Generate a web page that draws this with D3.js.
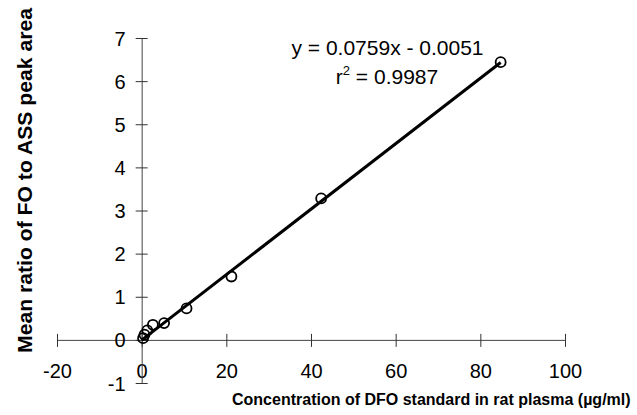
<!DOCTYPE html>
<html><head><meta charset="utf-8">
<script src="https://cdn.jsdelivr.net/npm/d3@7/dist/d3.min.js"></script>
<style>body{margin:0;background:#fff}svg{display:block}text{font-family:Arial,"Liberation Sans",sans-serif;fill:#000}</style>
</head><body><svg id="c" width="637" height="415"></svg>
<script>
const concentrations = [0.33, 0.66, 1.33, 2.65, 5.3, 10.6, 21.2, 42.4, 84.8];
const meanRatios = [0.04, 0.12, 0.22, 0.35, 0.39, 0.73, 1.47, 3.28, 6.44];
const xTicks = [-20, 0, 20, 40, 60, 80, 100];
const yTicks = [-1, 0, 1, 2, 3, 4, 5, 6, 7];
const slope = 0.0759, intercept = -0.0051;
const fitRange = [0, 84.8];
const eqText = "y = 0.0759x - 0.0051";
const r2Value = "0.9987";
const xTitle = "Concentration of DFO standard in rat plasma (\u00b5g/ml)";
const yTitle = "Mean ratio of FO to ASS peak area";

const FONT = "Arial, 'Liberation Sans', sans-serif";
const svg = d3.select("#c");
const x = d3.scaleLinear().domain([-20, 100]).range([57, 565]);
const y = d3.scaleLinear().domain([-1, 7]).range([383, 38]);

// x axis
const gx = svg.append("g").attr("transform", `translate(0,${y(0)})`)
  .call(d3.axisBottom(x).tickValues(xTicks).tickSizeOuter(0).tickSizeInner(6).tickFormat((d) => String(d)));
gx.select(".domain").attr("stroke", "#444").attr("stroke-width", 1);
gx.selectAll(".tick line").attr("y1", -6).attr("y2", 7).attr("stroke", "#333");
gx.selectAll(".tick text").attr("y", 31).attr("dy", "0.35em").attr("font-size", 20).attr("font-family", FONT);

// y axis
const gy = svg.append("g").attr("transform", `translate(${x(0)},0)`)
  .call(d3.axisLeft(y).tickValues(yTicks).tickSizeOuter(0).tickSizeInner(6).tickFormat((d) => String(d)));
gy.select(".domain").attr("stroke", "#444").attr("stroke-width", 1);
gy.selectAll(".tick line").attr("x1", -6).attr("x2", 6).attr("stroke", "#333");
gy.selectAll(".tick text").attr("x", -16).attr("dy", "0.35em").attr("font-size", 20).attr("font-family", FONT);

// regression line
svg.append("line")
  .attr("x1", x(fitRange[0])).attr("y1", y(slope * fitRange[0] + intercept))
  .attr("x2", x(fitRange[1])).attr("y2", y(slope * fitRange[1] + intercept))
  .attr("stroke", "#000").attr("stroke-width", 3);

// points
svg.selectAll("circle.pt").data(concentrations).join("circle").attr("class", "pt")
  .attr("cx", (d) => x(d)).attr("cy", (d, i) => y(meanRatios[i])).attr("r", 5)
  .attr("fill", "none").attr("stroke", "#000").attr("stroke-width", 1.8);

// equation
svg.append("text").attr("x", 387.5).attr("y", 55).attr("text-anchor", "middle")
  .attr("font-size", 21).text(eqText);
const r2 = svg.append("text").attr("x", 387).attr("y", 84).attr("text-anchor", "middle").attr("font-size", 21);
r2.append("tspan").text("r");
r2.append("tspan").attr("font-size", 13).attr("dy", -9).text("2");
r2.append("tspan").attr("dy", 9).text(" = " + r2Value);

// titles
svg.append("text").attr("x", 232).attr("y", 405).attr("text-anchor", "start")
  .attr("font-size", 16).attr("font-weight", "bold").text(xTitle);
svg.append("text").attr("transform", "translate(32,353) rotate(-90)").attr("text-anchor", "start")
  .attr("font-size", 21).attr("font-weight", "bold")
  .attr("textLength", 345).attr("lengthAdjust", "spacingAndGlyphs").text(yTitle);
</script></body></html>
